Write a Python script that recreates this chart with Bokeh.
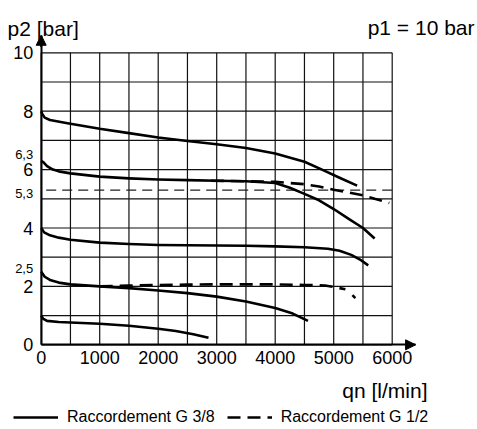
from bokeh.plotting import figure
from bokeh.models import (Range1d, FixedTicker, Label, Arrow, NormalHead, Legend,
                          LegendItem, LinearAxis)
from bokeh.embed import file_html
from bokeh.resources import INLINE
from bokeh.core.properties import value

# ---------------- data ----------------
x_ticks = [0, 1000, 2000, 3000, 4000, 5000, 6000]
y_ticks = [0, 2, 4, 6, 8, 10]
x_grid = list(range(0, 6001, 500))
y_grid = list(range(0, 11))
small_ticks = [6.3, 5.3, 2.5]
small_labels = ["6,3", "5,3", "2,5"]
ref_level = 5.3

# G 3/8 (solid)
s8_x = [0, 20, 60, 150, 450, 1000, 1500, 2000, 2500, 3000, 3500, 4000, 4500, 4800, 5100, 5400]
s8_y = [8.0, 7.9, 7.78, 7.7, 7.59, 7.4, 7.25, 7.1, 6.98, 6.87, 6.74, 6.55, 6.27, 6.0, 5.72, 5.45]

s63_x = [0, 40, 100, 200, 300, 500, 1000, 1500, 2000, 2500, 3000, 3500, 4000, 4250, 4500, 4750, 5000, 5250, 5500, 5700]
s63_y = [6.3, 6.25, 6.12, 6.0, 5.94, 5.87, 5.76, 5.7, 5.66, 5.64, 5.62, 5.6, 5.54, 5.38, 5.17, 4.95, 4.65, 4.32, 4.0, 3.64]

s4_x = [0, 50, 150, 300, 500, 1000, 1500, 2000, 2500, 3000, 3500, 4000, 4500, 4900, 5100, 5300, 5450, 5590]
s4_y = [4.0, 3.85, 3.75, 3.67, 3.6, 3.5, 3.45, 3.42, 3.41, 3.4, 3.39, 3.37, 3.34, 3.29, 3.22, 3.08, 2.92, 2.72]

s25_x = [0, 60, 150, 300, 500, 1000, 1500, 2000, 2500, 3000, 3500, 4000, 4300, 4560]
s25_y = [2.5, 2.33, 2.22, 2.13, 2.07, 2.0, 1.94, 1.86, 1.77, 1.65, 1.48, 1.26, 1.07, 0.82]

s1_x = [0, 30, 100, 300, 1000, 1500, 2000, 2300, 2600, 2860]
s1_y = [1.0, 0.9, 0.82, 0.78, 0.72, 0.65, 0.55, 0.47, 0.36, 0.24]

# G 1/2 (dashed)
d63_x = [2900, 3500, 4000, 4500, 4750, 5000, 5250, 5500, 5700, 5950]
d63_y = [5.62, 5.6, 5.58, 5.5, 5.42, 5.31, 5.22, 5.12, 5.0, 4.86]

d25_x = [1000, 1500, 2000, 2500, 3000, 3500, 4000, 4500, 4850, 5000, 5200]
d25_y = [2.0, 2.03, 2.05, 2.06, 2.07, 2.07, 2.07, 2.05, 2.03, 1.98, 1.9]
d25_tail_x = [5320, 5370]
d25_tail_y = [1.7, 1.6]

x_axis_end = 6400
y_axis_end = 10.6

# ---------------- layout ----------------
W, H = 477, 429
X0_PX, X_SCALE = 40.7, 0.0585   # canvas px of x=0, px per l/min
Y0_PX, Y_SCALE = 344.3, 29.2    # canvas px of y=0 (from top), px per bar


def px2x(page_x):
    return (page_x - X0_PX) / X_SCALE


def py2y(page_y):
    return (Y0_PX - page_y) / Y_SCALE


p = figure(width=W, height=H,
           x_range=Range1d(-X0_PX / X_SCALE, (W - X0_PX) / X_SCALE),
           y_range=Range1d((Y0_PX - H) / Y_SCALE, Y0_PX / Y_SCALE),
           output_backend="svg", toolbar_location=None, title=None,
           x_axis_type=None, y_axis_type=None, min_border=0)
p.outline_line_color = None
p.background_fill_color = "white"

FONT = "Liberation Sans"

# grid
nx, ny = len(x_grid), len(y_grid)
p.segment(x0=x_grid, y0=[min(y_grid)] * nx, x1=x_grid, y1=[max(y_grid)] * nx,
          line_color="#111111", line_width=1.2)
p.segment(x0=[min(x_grid)] * ny, y0=y_grid, x1=[max(x_grid)] * ny, y1=y_grid,
          line_color="#111111", line_width=1.2)

# 5.3 reference level
p.line(x=[min(x_grid), max(x_grid)], y=[ref_level, ref_level], line_color="#222222",
       line_width=1.2, line_dash="10 6", line_dash_offset=11)

# curves
sw = 2.6
r_solid = p.line(s8_x, s8_y, line_color="black", line_width=sw, line_join="round")
p.line(s63_x, s63_y, line_color="black", line_width=sw, line_join="round")
p.line(s4_x, s4_y, line_color="black", line_width=sw, line_join="round")
p.line(s25_x, s25_y, line_color="black", line_width=sw, line_join="round")
p.line(s1_x, s1_y, line_color="black", line_width=sw, line_join="round")
r_dash = p.line(d63_x, d63_y, line_color="black", line_width=sw, line_dash="13 7")
p.line(d25_x, d25_y, line_color="black", line_width=sw, line_dash="13 7")
p.line(d25_tail_x, d25_tail_y, line_color="black", line_width=sw)

# axes
xaxis = LinearAxis(fixed_location=0, ticker=FixedTicker(ticks=x_ticks), bounds=(0, x_axis_end))
yaxis = LinearAxis(fixed_location=0, ticker=FixedTicker(ticks=y_ticks), bounds=(0, y_axis_end))
for ax in (xaxis, yaxis):
    ax.axis_line_width = 2
    ax.axis_line_color = "black"
    ax.major_tick_in = 0
    ax.major_tick_out = 0
    ax.minor_tick_line_color = None
    ax.major_label_text_font = FONT
    ax.major_label_text_font_size = "18px"
    ax.major_label_text_color = "black"
xaxis.major_label_standoff = 6
yaxis.major_label_standoff = 8
p.add_layout(xaxis, "below")
p.add_layout(yaxis, "left")

p.add_layout(Arrow(end=NormalHead(size=10, fill_color="black", line_color="black"),
                   x_start=x_axis_end - 150, y_start=0, x_end=x_axis_end, y_end=0,
                   line_width=2, line_color="black"))
p.add_layout(Arrow(end=NormalHead(size=10, fill_color="black", line_color="black"),
                   x_start=0, y_start=y_axis_end - 0.4, x_end=0, y_end=y_axis_end,
                   line_width=2, line_color="black"))

# small extra y labels
p.text(x=[0] * len(small_ticks), y=small_ticks, text=small_labels,
       x_offset=-8, y_offset=[-6, 3, -3], text_align="right", text_baseline="middle",
       text_font=value(FONT), text_font_size=value("13px"), text_color="black")

# titles
p.add_layout(Label(x=px2x(7), y=py2y(28), text="p2 [bar]", text_font=FONT,
                   text_font_size="21px", text_baseline="alphabetic", text_align="left",
                   text_color="black"))
p.add_layout(Label(x=px2x(474), y=py2y(27), text="p1 = 10 bar", text_font=FONT,
                   text_font_size="21px", text_baseline="alphabetic", text_align="right",
                   text_color="black"))
p.add_layout(Label(x=px2x(427), y=py2y(390), text="qn [l/min]", text_font=FONT,
                   text_font_size="21px", text_baseline="alphabetic", text_align="right",
                   text_color="black"))

legend = Legend(items=[LegendItem(label="Raccordement G 3/8", renderers=[r_solid]),
                       LegendItem(label="Raccordement G 1/2", renderers=[r_dash])],
                orientation="horizontal", location=(13, 3), glyph_width=45, glyph_height=14,
                label_height=14, label_standoff=9, spacing=12, padding=0, margin=0,
                border_line_color=None, background_fill_alpha=0,
                label_text_font=FONT, label_text_font_size="16px", label_text_color="black")
p.add_layout(legend)

open("out.html", "w").write(file_html(p, INLINE))
